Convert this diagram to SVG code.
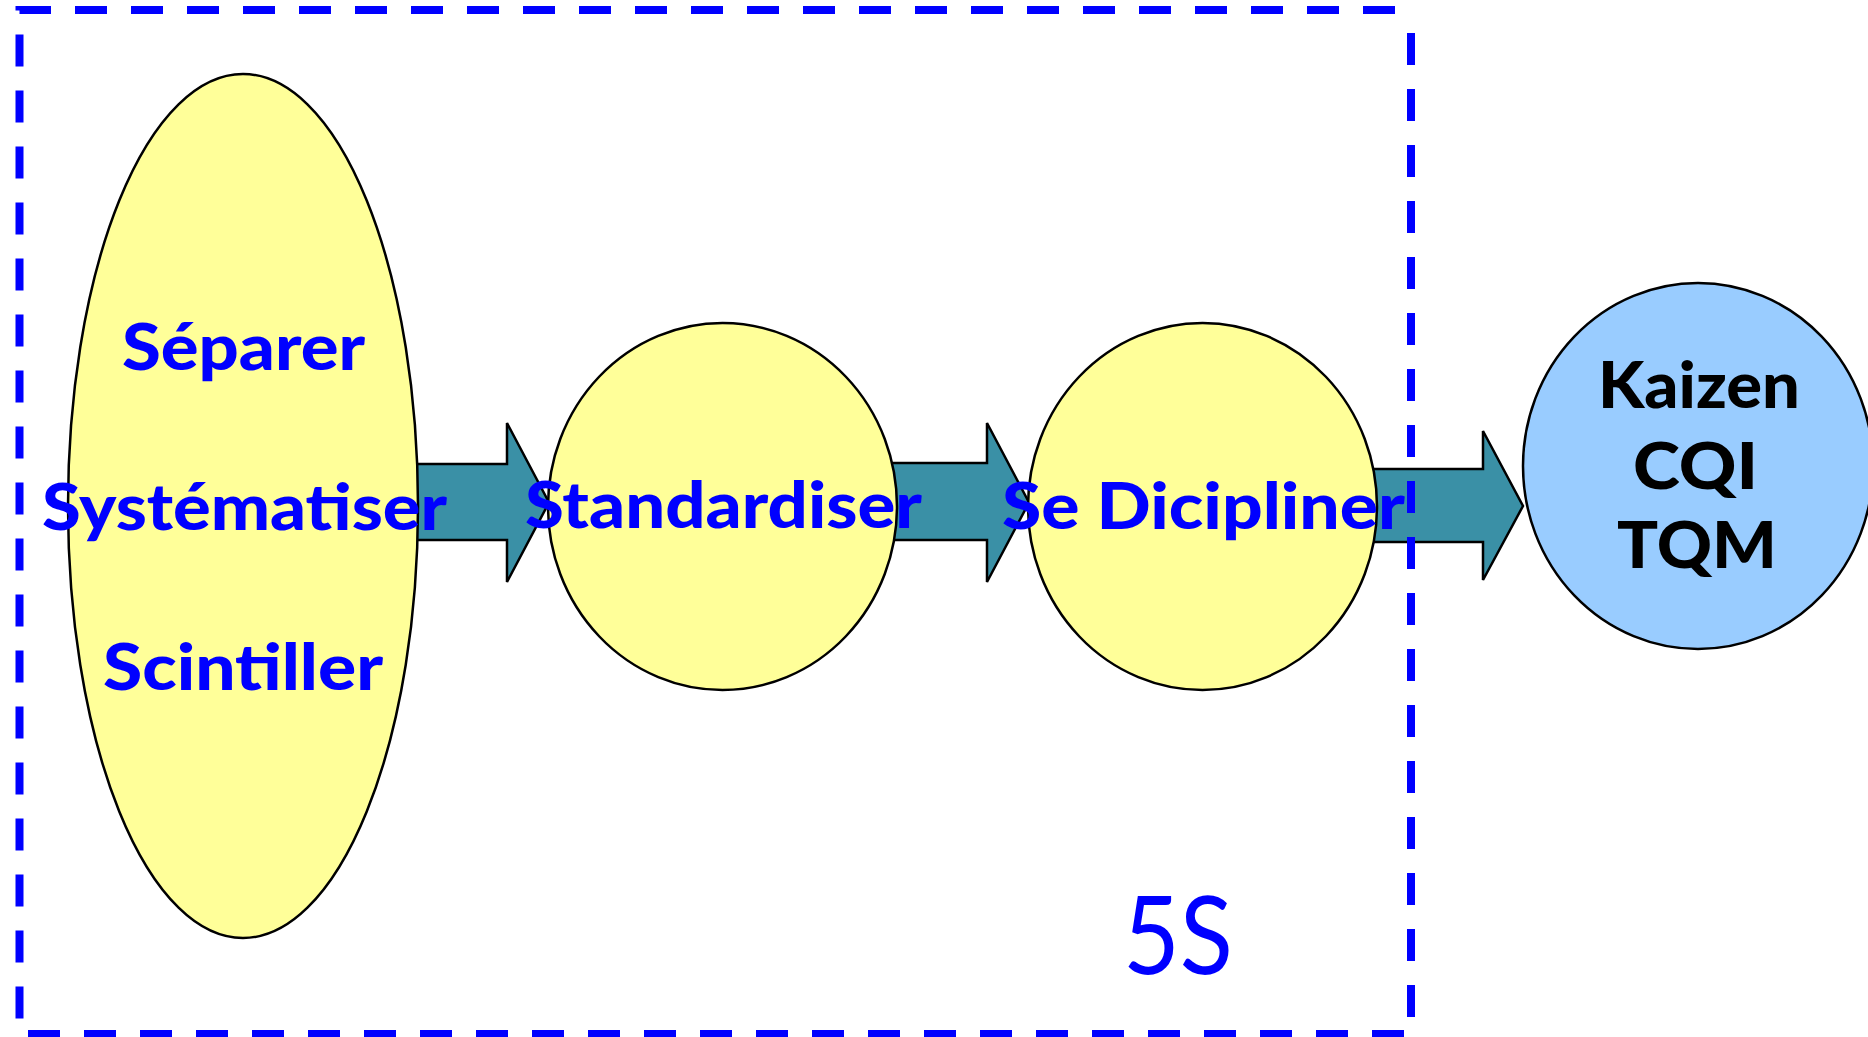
<svg xmlns="http://www.w3.org/2000/svg" width="1868" height="1037" viewBox="0 0 1868 1037">
<style>
.arrow{fill:#3A90A6;stroke:#000;stroke-width:2.5;stroke-linejoin:miter}
.yel{fill:#FFFF99;stroke:#000;stroke-width:2.5}
.blu{fill:#99CCFF;stroke:#000;stroke-width:2.5}
.frame{fill:none;stroke:#0000FF;stroke-width:8;stroke-dasharray:32 24}
.lbl{font-family:Lato,"Open Sans","Liberation Sans",sans-serif;font-weight:900;font-size:64px;text-anchor:middle;fill:#0000FF}
.blk{fill:#000}
.big{font-family:Lato,"Open Sans","Liberation Sans",sans-serif;font-weight:normal;font-size:108px;text-anchor:middle;fill:#0000FF}
</style>
<rect width="1868" height="1037" fill="#fff"/>
<g id="connectors">
<polygon class="arrow" points="400,464 507,464 507,423 549,502.5 507,582 507,540 400,540"/>
<polygon class="arrow" points="880,463 987,463 987,423 1029,502.5 987,582 987,540 880,540"/>
<polygon class="arrow" points="1360,469 1483,469 1483,431 1523,506 1483,580 1483,542 1360,542"/>
</g>
<g id="frame-5s">
<path class="frame" d="M1395,10 L19.5,10 L19.5,1034 L1411,1034 L1411,18"/>
<text class="big" x="1178" y="974" textLength="110" lengthAdjust="spacingAndGlyphs">5S</text>
</g>
<g id="node-3s">
<ellipse class="yel" cx="243" cy="506" rx="175" ry="432"/>
<text class="lbl" x="243.5" y="370" textLength="243" lengthAdjust="spacingAndGlyphs">Séparer</text>
<text class="lbl" x="244.5" y="530" textLength="405" lengthAdjust="spacingAndGlyphs">Systématiser</text>
<text class="lbl" x="243" y="690" textLength="280" lengthAdjust="spacingAndGlyphs">Scintiller</text>
</g>
<g id="node-standardiser">
<ellipse class="yel" cx="722.5" cy="506.5" rx="174.5" ry="183.5"/>
<text class="lbl" x="723.5" y="528" textLength="397" lengthAdjust="spacingAndGlyphs">Standardiser</text>
</g>
<g id="node-discipliner">
<ellipse class="yel" cx="1202.5" cy="506.5" rx="174.5" ry="183.5"/>
<text class="lbl" x="1203.5" y="529" textLength="403" lengthAdjust="spacingAndGlyphs">Se Dicipliner</text>
</g>
<g id="node-kaizen">
<ellipse class="blu" cx="1698" cy="466" rx="175" ry="183"/>
<text class="lbl blk" x="1699" y="408" textLength="202" lengthAdjust="spacingAndGlyphs">Kaizen</text>
<text class="lbl blk" x="1695.5" y="489" textLength="125" lengthAdjust="spacingAndGlyphs">CQI</text>
<text class="lbl blk" x="1697" y="568" textLength="160" lengthAdjust="spacingAndGlyphs">TQM</text>
</g>
</svg>
